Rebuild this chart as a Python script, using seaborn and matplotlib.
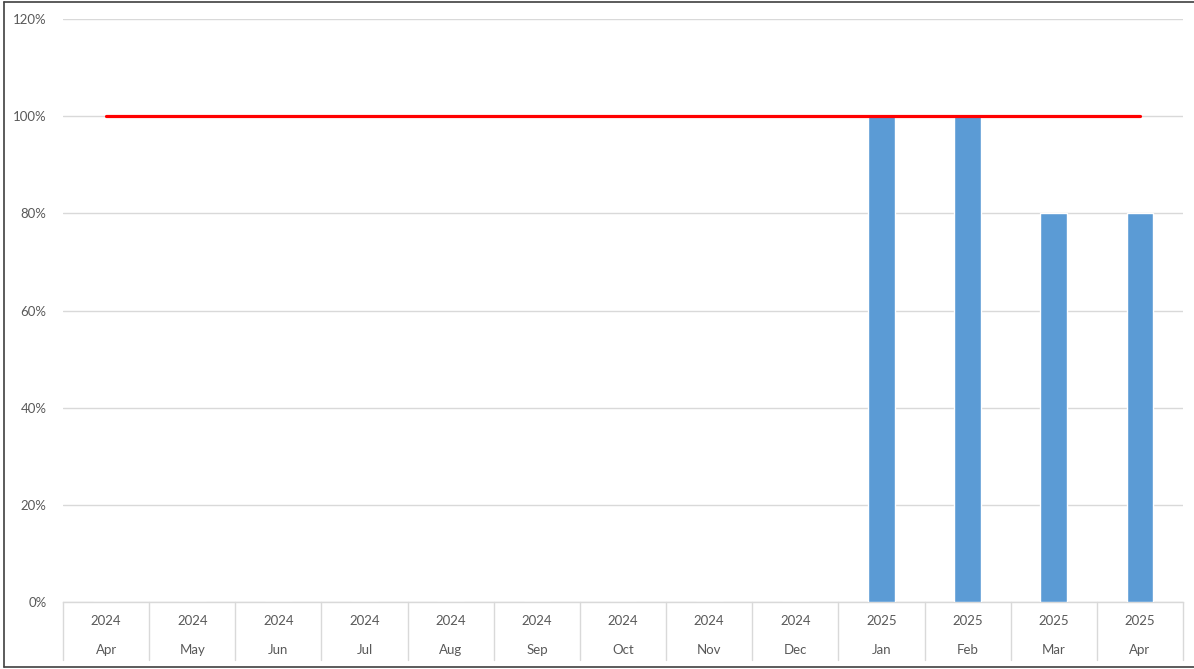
import matplotlib
matplotlib.use("Agg")
import matplotlib.pyplot as plt
import seaborn as sns
import pandas as pd
import numpy as np

# Monthly compliance data
years = ["2024"] * 9 + ["2025"] * 4
months = ["Apr", "May", "Jun", "Jul", "Aug", "Sep", "Oct", "Nov", "Dec",
          "Jan", "Feb", "Mar", "Apr"]
actual = [0, 0, 0, 0, 0, 0, 0, 0, 0, 100, 100, 80, 80]
target = [100] * 13

sns.set_theme(style="white")
plt.rcParams["font.family"] = ["Lato", "DejaVu Sans"]

df = pd.DataFrame({
    "idx": range(len(months)),
    "actual": actual,
    "target": target,
})

fig = plt.figure(figsize=(11.94, 6.69), dpi=100)
ax = fig.add_axes([0.0528, 0.1001, 0.9380, 0.8715])

text_color = "#595959"
grid_color = "#D9D9D9"

sns.barplot(data=df, x="idx", y="actual", color="#5B9BD5", width=0.31,
            saturation=1, ax=ax, zorder=3)
sns.lineplot(data=df, x="idx", y="target", color="#FF0000", linewidth=2.3,
             ax=ax, zorder=4)

n = len(months)
ax.set_xlim(-0.5, n - 0.5)
ax.set_ylim(0, 120)
ax.set_yticks(np.arange(0, 121, 20))
ax.set_yticklabels([f"{v}%" for v in range(0, 121, 20)], color=text_color,
                   fontsize=9.5)
ax.yaxis.grid(True, color=grid_color, linewidth=1)
ax.set_axisbelow(True)
ax.tick_params(axis="y", length=0, pad=12)
ax.set_xticks([])
ax.set_xlabel("")
ax.set_ylabel("")
for side in ["top", "right", "left"]:
    ax.spines[side].set_visible(False)
ax.spines["bottom"].set_color(grid_color)
ax.spines["bottom"].set_linewidth(1)

# Two-level category axis: year over month, with cell separators
trans = ax.get_xaxis_transform()
for b in range(n + 1):
    ax.plot([b - 0.5, b - 0.5], [0, -0.099], transform=trans, color=grid_color,
            linewidth=1, clip_on=False)
for i, (yr, mo) in enumerate(zip(years, months)):
    ax.text(i, -0.033, yr, transform=trans, ha="center", va="center",
            color=text_color, fontsize=9.5)
    ax.text(i, -0.082, mo, transform=trans, ha="center", va="center",
            color=text_color, fontsize=9.5)

# Chart frame: top, left and bottom edges
frame = dict(transform=fig.transFigure, color="#404040", linewidth=1.2)
fig.add_artist(plt.Line2D([0.0035, 1.0], [0.997, 0.997], **frame))
fig.add_artist(plt.Line2D([0.0035, 0.0035], [0.003, 0.997], **frame))
fig.add_artist(plt.Line2D([0.0035, 1.0], [0.003, 0.003], **frame))

fig.savefig("out.png", dpi=100)
